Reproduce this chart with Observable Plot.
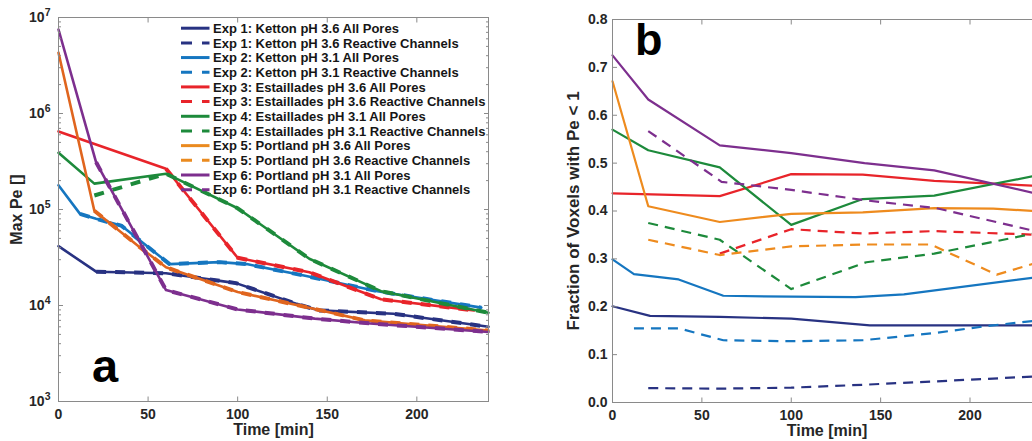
<!DOCTYPE html>
<html>
<head>
<meta charset="utf-8">
<script src="https://cdn.jsdelivr.net/npm/d3@7"></script>
<script src="https://cdn.jsdelivr.net/npm/@observablehq/plot@0.6"></script>
<style>
  html, body { margin: 0; padding: 0; background: #fff; overflow: hidden; }
  #wrap { position: relative; width: 1032px; height: 441px; overflow: hidden; background: #fff;
          font-family: "Liberation Sans", Arial, Helvetica, sans-serif; }
  #wrap > svg { position: absolute; top: 0; max-width: none !important; }
</style>
</head>
<body>
<div id="wrap"></div>
<script>
// ---------------- DATA ----------------
const expLabels = [
  "Exp 1: Ketton pH 3.6",
  "Exp 2: Ketton pH 3.1",
  "Exp 3: Estaillades pH 3.6",
  "Exp 4: Estaillades pH 3.1",
  "Exp 5: Portland pH 3.6",
  "Exp 6: Portland pH 3.1"
];
const kindLabels = ["All Pores", "Reactive Channels"];

// tick labels
const xTicks = [0, 50, 100, 150, 200];
const yTicksA = [1e3, 1e4, 1e5, 1e6, 1e7];
const yTicksB = [0, 0.1, 0.2, 0.3, 0.4, 0.5, 0.6, 0.7, 0.8];

// ---- Panel a: Max Pe, all pores (solid) ----
const tA1 = [0, 21, 60, 99, 133, 145, 187, 240];
const peAll1 = [4.15e4, 2.25e4, 2.17e4, 1.71e4, 1.04e4, 8.9e3, 8.2e3, 6.0e3];
const tA2 = [0, 12, 21, 35, 62, 90, 105, 137, 178, 236];
const peAll2 = [1.79e5, 9.0e4, 8.0e4, 6.8e4, 2.7e4, 2.83e4, 2.7e4, 2.05e4, 1.41e4, 9.5e3];
const tA3 = [0, 60, 100, 140, 180, 232];
const peAll3 = [6.5e5, 2.66e5, 3.14e4, 2.22e4, 1.16e4, 8.9e3];
const tA4 = [0, 20, 60, 100, 140, 180, 240];
const peAll4 = [3.9e5, 1.86e5, 2.36e5, 1.03e5, 3.07e4, 1.41e4, 8.4e3];
const tA5 = [0, 20, 45, 60, 100, 143, 171, 240];
const peAll5 = [4.3e6, 9.7e4, 4.1e4, 2.5e4, 1.38e4, 9.2e3, 7.0e3, 5.5e3];
const tA6 = [0, 21, 60, 100, 143, 174, 240];
const peAll6 = [7.5e6, 3.1e5, 1.45e4, 9.1e3, 7.3e3, 6.5e3, 5.3e3];

// ---- Panel a: Max Pe, reactive channels (dashed) ----
const tAr1 = [21, 60, 99, 133, 145, 187, 240];
const peRe1 = [2.25e4, 2.17e4, 1.71e4, 1.04e4, 8.9e3, 8.2e3, 6.0e3];
const tAr2 = [12, 21, 35, 62, 90, 105, 137, 178, 236];
const peRe2 = [9.0e4, 8.0e4, 6.8e4, 2.7e4, 2.83e4, 2.7e4, 2.05e4, 1.41e4, 9.5e3];
const tAr3 = [60, 100, 140, 180, 232];
const peRe3 = [2.66e5, 3.14e4, 2.22e4, 1.16e4, 8.9e3];
const tAr4 = [20, 60, 100, 140, 180, 240];
const peRe4 = [1.4e5, 2.36e5, 1.03e5, 3.07e4, 1.41e4, 8.4e3];
const tAr5 = [20, 45, 60, 100, 143, 171, 240];
const peRe5 = [9.7e4, 4.1e4, 2.5e4, 1.38e4, 9.2e3, 7.0e3, 5.5e3];
const tAr6 = [21, 60, 100, 143, 174, 240];
const peRe6 = [3.1e5, 1.45e4, 9.1e3, 7.3e3, 6.5e3, 5.3e3];

// ---- Panel b: fraction of voxels with Pe < 1, all pores (solid) ----
const tB1 = [0, 21, 60, 100, 144, 240];
const frAll1 = [0.201, 0.181, 0.179, 0.175, 0.161, 0.161];
const tB2 = [0, 12, 37, 62, 100, 136, 163, 240];
const frAll2 = [0.299, 0.268, 0.257, 0.223, 0.221, 0.220, 0.226, 0.263];
const tB3 = [0, 60, 100, 140, 180, 240];
const frAll3 = [0.437, 0.431, 0.477, 0.476, 0.463, 0.452];
const tB4 = [0, 20, 60, 100, 140, 180, 240];
const frAll4 = [0.570, 0.527, 0.491, 0.371, 0.425, 0.432, 0.476];
const tB5 = [0, 20, 60, 100, 140, 180, 213, 240];
const frAll5 = [0.671, 0.410, 0.377, 0.394, 0.397, 0.406, 0.405, 0.399];
const tB6 = [0, 20, 60, 100, 141, 180, 240];
const frAll6 = [0.725, 0.633, 0.537, 0.521, 0.500, 0.485, 0.434];

// ---- Panel b: reactive channels (dashed) ----
const tBr1 = [20, 60, 100, 140, 180, 240];
const frRe1 = [0.030, 0.029, 0.031, 0.037, 0.044, 0.055];
const tBr2 = [12, 37, 62, 100, 140, 180, 210, 240];
const frRe2 = [0.155, 0.155, 0.130, 0.128, 0.130, 0.145, 0.160, 0.172];
const tBr3 = [60, 100, 140, 180, 240];
const frRe3 = [0.311, 0.362, 0.353, 0.358, 0.350];
const tBr4 = [20, 60, 100, 142, 180, 240];
const frRe4 = [0.375, 0.340, 0.237, 0.293, 0.311, 0.356];
const tBr5 = [20, 60, 100, 140, 178, 215, 240];
const frRe5 = [0.340, 0.308, 0.326, 0.330, 0.330, 0.267, 0.295];
const tBr6 = [20, 61, 100, 142, 181, 240];
const frRe6 = [0.567, 0.461, 0.444, 0.422, 0.406, 0.355];

// ---------------- STYLE ----------------
const FONT = '"Liberation Sans", Arial, Helvetica, sans-serif';
const AXIS = "#8a8a8a";
const TXT = "#262626";
const colorsB = ["#283282", "#1576c0", "#e8242a", "#1d8a3b", "#ee8b1e", "#7d2f8e"];
const colorsA = ["#283282", "#1576c0", "#e8242a", "#1d8a3b", "#e0651e", "#7d2f8e"];
const colorsLegend = ["#283282", "#1576c0", "#e8242a", "#1d8a3b", "#ea8a1f", "#7d2f8e"];

const rows = (t, v) => t.map((ti, i) => ({t: ti, v: v[i]}));

const allA = [[tA1, peAll1], [tA2, peAll2], [tA3, peAll3], [tA4, peAll4], [tA5, peAll5], [tA6, peAll6]];
const reA = [[tAr1, peRe1], [tAr2, peRe2], [tAr3, peRe3], [tAr4, peRe4], [tAr5, peRe5], [tAr6, peRe6]];
const allB = [[tB1, frAll1], [tB2, frAll2], [tB3, frAll3], [tB4, frAll4], [tB5, frAll5], [tB6, frAll6]];
const reB = [[tBr1, frRe1], [tBr2, frRe2], [tBr3, frRe3], [tBr4, frRe4], [tBr5, frRe5], [tBr6, frRe6]];

const minorA = d3.range(3, 7).flatMap(e => d3.range(2, 10).map(m => m * Math.pow(10, e)));

// ---------------- PANEL A ----------------
const linesA = [];
for (let i = 0; i < 6; i++) {
  linesA.push(Plot.line(rows(...allA[i]), {x: "t", y: "v", stroke: colorsA[i], strokeWidth: 2.6}));
  linesA.push(Plot.line(rows(...reA[i]), {x: "t", y: "v", stroke: colorsA[i], strokeWidth: 4,
    strokeDasharray: "10,9", strokeLinecap: "butt"}));
}

const plotA = Plot.plot({
  width: 500, height: 441,
  marginLeft: 58, marginRight: 12, marginTop: 17, marginBottom: 40,
  x: {domain: [0, 240]},
  y: {type: "log", domain: [1e3, 1e7]},
  style: {fontFamily: FONT, fontWeight: "bold", color: TXT, background: "transparent", overflow: "visible"},
  marks: [
    ...linesA,
    Plot.frame({stroke: AXIS}),
    Plot.axisX(xTicks, {tickSize: -4.5, stroke: AXIS, fill: "none"}),
    Plot.axisX(xTicks, {anchor: "top", tickSize: -4.5, stroke: AXIS, fill: "none"}),
    Plot.axisY(yTicksA, {tickSize: -5, stroke: AXIS, fill: "none"}),
    Plot.axisY(yTicksA, {anchor: "right", tickSize: -5, stroke: AXIS, fill: "none"}),
    Plot.axisY(minorA, {tickSize: -3, stroke: AXIS, fill: "none"}),
    Plot.axisY(minorA, {anchor: "right", tickSize: -3, stroke: AXIS, fill: "none"}),
    Plot.axisX(xTicks, {tickSize: 0, tickPadding: 8, fontSize: 14, fill: TXT, label: null}),
    Plot.axisY(yTicksA, {tickSize: 0, tickPadding: 8, fontSize: 14, fill: TXT, label: null,
      tickFormat: d => "10^" + Math.round(Math.log10(d))}),
    Plot.axisX([], {tickSize: 0, fontSize: 16, fill: TXT, label: "Time [min]", labelAnchor: "center",
      labelOffset: 33, labelArrow: "none"}),
    Plot.axisY([], {tickSize: 0, fontSize: 16, fill: TXT, label: "Max Pe []", labelAnchor: "center",
      labelOffset: 48, labelArrow: "none"})
  ]
});

// render the "10^n" tick labels with a real superscript
d3.select(plotA).selectAll("text").each(function () {
  const s = this.textContent;
  const m = /^10\^(\d+)$/.exec(s);
  if (!m) return;
  const t = d3.select(this);
  t.text(null);
  t.append("tspan").text("10");
  t.append("tspan").attr("font-size", 10.5).attr("dy", "-0.6em").text(m[1]);
});

// ---------------- PANEL B ----------------
const linesB = [];
for (let i = 0; i < 6; i++) {
  linesB.push(Plot.line(rows(...allB[i]), {x: "t", y: "v", stroke: colorsB[i], strokeWidth: 2.2}));
  linesB.push(Plot.line(rows(...reB[i]), {x: "t", y: "v", stroke: colorsB[i], strokeWidth: 2.2,
    strokeDasharray: "10,7", strokeLinecap: "butt"}));
}

const plotB = Plot.plot({
  width: 511, height: 441,
  marginLeft: 72, marginRight: 10, marginTop: 19, marginBottom: 39,
  x: {domain: [0, 240]},
  y: {domain: [0, 0.8]},
  style: {fontFamily: FONT, fontWeight: "bold", color: TXT, background: "transparent", overflow: "visible"},
  marks: [
    ...linesB,
    Plot.frame({stroke: AXIS}),
    Plot.axisX(xTicks, {tickSize: -4.5, stroke: AXIS, fill: "none"}),
    Plot.axisX(xTicks, {anchor: "top", tickSize: -4.5, stroke: AXIS, fill: "none"}),
    Plot.axisY(yTicksB, {tickSize: -5, stroke: AXIS, fill: "none"}),
    Plot.axisY(yTicksB, {anchor: "right", tickSize: -5, stroke: AXIS, fill: "none"}),
    Plot.axisX(xTicks, {tickSize: 0, tickPadding: 8, fontSize: 14, fill: TXT, label: null}),
    Plot.axisY(yTicksB, {tickSize: 0, tickPadding: 5, fontSize: 14, fill: TXT, label: null}),
    Plot.axisX([], {tickSize: 0, fontSize: 16, fill: TXT, label: "Time [min]", labelAnchor: "center",
      labelOffset: 33, labelArrow: "none"}),
    Plot.axisY([], {tickSize: 0, fontSize: 17, fill: TXT, label: "Fraction of Voxels with Pe < 1",
      labelAnchor: "center", labelOffset: 46, labelArrow: "none"})
  ]
});

const wrap = document.getElementById("wrap");
plotA.style.left = "0px";
plotB.style.left = "540px";
wrap.appendChild(plotA);
wrap.appendChild(plotB);

// ---------------- OVERLAY: legend + panel letters ----------------
const ov = d3.select(wrap).append("svg")
  .attr("width", 1032).attr("height", 441)
  .style("left", "0px").style("pointer-events", "none")
  .style("font-family", FONT).style("font-weight", "bold");

const legendItems = [];
expLabels.forEach((e, i) => kindLabels.forEach((k, j) =>
  legendItems.push({label: e + " " + k, color: colorsLegend[i], dashed: j === 1})));

const lg = ov.append("g");
legendItems.forEach((d, i) => {
  const y = 28.2 + 14.68 * i;
  lg.append("line").attr("x1", 181).attr("x2", 209.5).attr("y1", y).attr("y2", y)
    .attr("stroke", d.color).attr("stroke-width", 3)
    .attr("stroke-dasharray", d.dashed ? "11,10" : null);
  lg.append("text").attr("x", 213).attr("y", y + 4.7)
    .attr("font-size", 13).attr("fill", "#161616").text(d.label);
});

ov.append("text").attr("x", 92).attr("y", 381.5).attr("font-size", 47).attr("fill", "#000").text("a");
ov.append("text").attr("x", 635).attr("y", 55).attr("font-size", 45).attr("fill", "#000").text("b");
</script>
</body>
</html>
